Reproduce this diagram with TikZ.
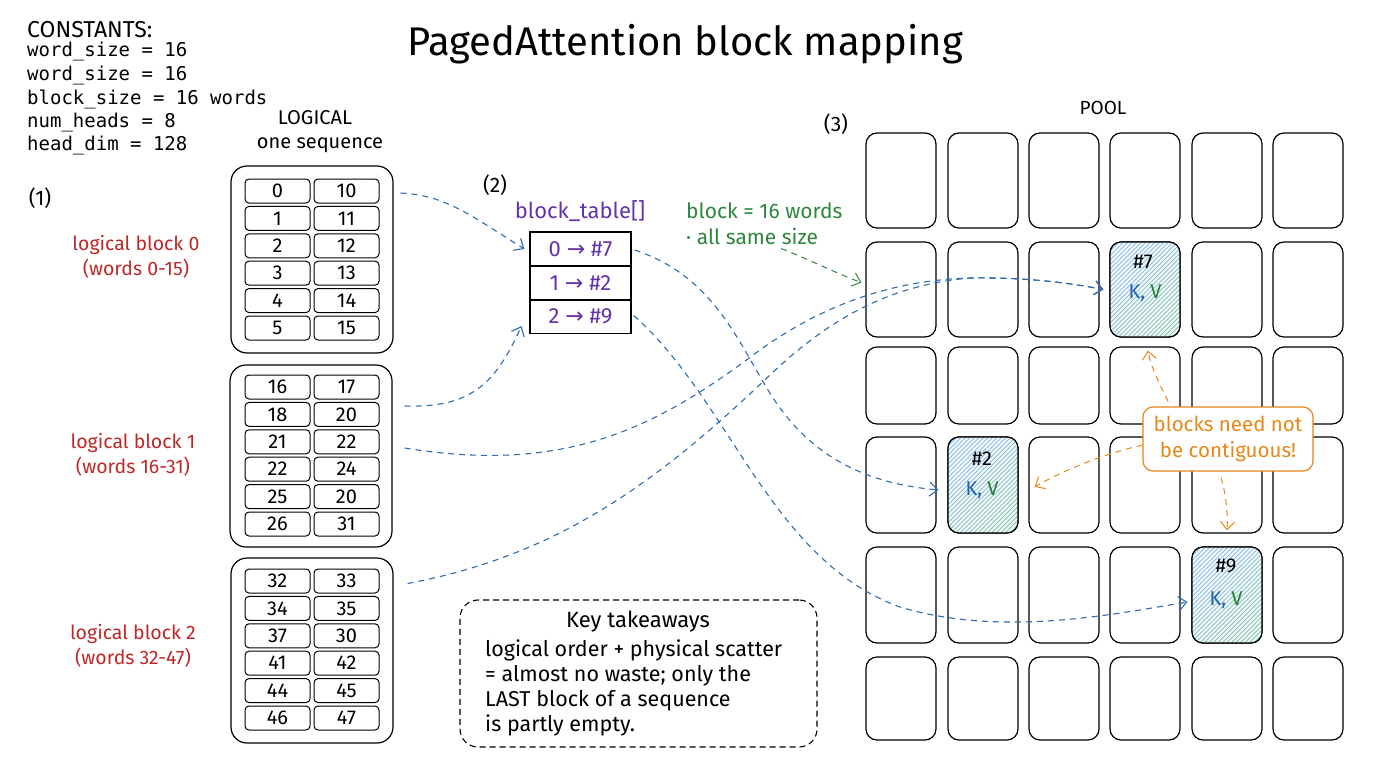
\documentclass[tikz,border=0pt]{standalone}
\usepackage{fontspec}
\setmainfont{Fira Sans}
\setmonofont{DejaVu Sans Mono}
\newfontfamily\arrowfont{DejaVu Sans}
\usetikzlibrary{arrows.meta,calc}

\definecolor{linkblue}{RGB}{47,108,176}
\definecolor{labred}{RGB}{190,40,40}
\definecolor{tabpurple}{RGB}{100,50,170}
\definecolor{notegreen}{RGB}{46,135,60}
\definecolor{calloutorange}{RGB}{230,135,25}
\definecolor{kblue}{RGB}{30,95,175}
\definecolor{vgreen}{RGB}{35,130,50}
\definecolor{hblue}{RGB}{130,185,230}
\definecolor{hgreen}{RGB}{110,195,120}

\begin{document}
\begin{tikzpicture}[x=1pt,y=-1pt,
  hand/.style={font=\fontsize{19.5}{25}\selectfont, align=center, inner sep=0pt},
  monoline/.style={font=\ttfamily\fontsize{19}{23}\selectfont, anchor=west, inner sep=0pt},
  cellbox/.style={draw, line width=1pt, rounded corners=4pt, minimum width=65pt, minimum height=24pt, inner sep=0pt, font=\fontsize{20}{20}\selectfont},
  outerbox/.style={draw, line width=1.2pt, rounded corners=16pt, inner sep=0pt, minimum width=162pt},
  poolcell/.style={draw, line width=1.2pt, rounded corners=11pt, minimum width=70pt, inner sep=0pt},
  tabrow/.style={draw, line width=1.2pt, minimum width=101pt, minimum height=34pt, inner sep=0pt, text=tabpurple, font=\fontsize{22}{22}\selectfont},
  link/.style={draw=linkblue, line width=1.1pt, dash pattern=on 6pt off 5pt, -{Straight Barb[length=8pt,width=14pt]}},
  orangelink/.style={draw=calloutorange, line width=1pt, dash pattern=on 6pt off 5pt, -{Straight Barb[length=8pt,width=14pt]}},
  greenlink/.style={draw=notegreen, line width=1pt, dash pattern=on 6pt off 5pt, -{Straight Barb[length=8pt,width=14pt]}},
  hatched/.style={fill=hblue!10, path picture={
    \foreach \i in {0,...,40}{
      \pgfmathtruncatemacro\mix{max(0,min(100,135-\i*3.4))}
      \draw[line width=0.7pt, color=hblue!\mix!hgreen]
        ($(path picture bounding box.north west)+(\i*4.5,0)$) -- ++(-140,140);
    }}},
  kvtext/.style={font=\fontsize{20}{20}\selectfont, inner sep=0pt}
]
\useasboundingbox[fill=white] (0,0) rectangle (1376,768);

% title
\node (title) [font=\fontsize{40}{44}\selectfont, inner sep=0pt] at (685,44) {PagedAttention block mapping};

% constants
\node[anchor=west, inner sep=0pt, font=\fontsize{23}{26}\selectfont] (k0) at (27,30) {CONSTANTS:};
\node[monoline] (k1) at (27,52) {word\_size = 16};
\node[monoline] (k2) at (27,75.5) {word\_size = 16};
\node[monoline] (k3) at (27,99) {block\_size = 16 words};
\node[monoline] (k4) at (27,122.5) {num\_heads = 8};
\node[monoline] (k5) at (27,146) {head\_dim = 128};

% section labels
\node[hand, font=\fontsize{21}{24}\selectfont] (s1) at (40,198) {(1)};
\node[hand, font=\fontsize{21}{24}\selectfont] (s2) at (495,185) {(2)};
\node[hand, font=\fontsize{21}{24}\selectfont] (s3) at (836,124) {(3)};
\node[hand, font=\fontsize{20}{22}\selectfont] (logh) at (315,118) {LOGICAL};
\node[hand, font=\fontsize{20}{22}\selectfont] (seqh) at (320,145) {one sequence};
\node[hand, font=\fontsize{19}{22}\selectfont] (poolh) at (1103,108) {POOL};

% logical blocks
\node[outerbox, minimum height=187pt] (lb0) at (312,259.5) {};
\node[outerbox, minimum height=182pt] (lb1) at (311,456) {};
\node[outerbox, minimum height=185pt] (lb2) at (312,650.5) {};
\foreach \r/\a/\c in {1/0/10,2/1/11,3/2/12,4/3/13,5/4/14,6/5/15}{
  \node[cellbox] (c0\r1) at (277.5,{191+(\r-1)*27.4}) {\a};
  \node[cellbox] (c0\r2) at (346.5,{191+(\r-1)*27.4}) {\c};
}
\foreach \r/\a/\c in {1/16/17,2/18/20,3/21/22,4/22/24,5/25/20,6/26/31}{
  \node[cellbox] (c1\r1) at (277.5,{387+(\r-1)*27.4}) {\a};
  \node[cellbox] (c1\r2) at (346.5,{387+(\r-1)*27.4}) {\c};
}
\foreach \r/\a/\c in {1/32/33,2/34/35,3/37/30,4/41/42,5/44/45,6/46/47}{
  \node[cellbox] (c2\r1) at (277.5,{581+(\r-1)*27.4}) {\a};
  \node[cellbox] (c2\r2) at (346.5,{581+(\r-1)*27.4}) {\c};
}
\node[hand, text=labred] (lab0) at (136,256.5) {logical block 0\\(words 0-15)};
\node[hand, text=labred] (lab1) at (133,455) {logical block 1\\(words 16-31)};
\node[hand, text=labred] (lab2) at (133,645.5) {logical block 2\\(words 32-47)};

% block table
\node[hand, text=tabpurple, font=\fontsize{22}{24}\selectfont] (bth) at (580,211) {block\_table[]};
\node[tabrow] (t0) at (580.5,249) {0 {\arrowfont →} \#7};
\node[tabrow] (t1) at (580.5,283) {1 {\arrowfont →} \#2};
\node[tabrow] (t2) at (580.5,316.5) {2 {\arrowfont →} \#9};

% green note
\node[hand, anchor=west, text=notegreen, font=\fontsize{21}{24}\selectfont] (gn1) at (686,211) {block = 16 words};
\node[hand, anchor=west, text=notegreen, font=\fontsize{21}{24}\selectfont] (gn2) at (686,236) {· all same size};

% pool
\foreach \r/\t/\b in {1/133/228,2/242/337,3/347/424,4/437/533,5/547/643,6/657/740}{
  \foreach \c/\l in {1/866,2/948,3/1029,4/1110,5/1192,6/1273}{
    \pgfmathsetmacro\hh{\b-\t}
    \node[poolcell, minimum height=\hh pt] (p\r\c) at ({\l+35},{(\t+\b)/2}) {};
  }
}
\node[poolcell, hatched, minimum height=95pt] (h7) at (p24.center) {};
\node[poolcell, hatched, minimum height=96pt] (h2) at (p42.center) {};
\node[poolcell, hatched, minimum height=96pt] (h9) at (p55.center) {};
\node[kvtext] (h7n) at (1143,262) {\#7};
\node[kvtext] (h7kv) at (1145,293) {{\color{kblue}K,} {\color{vgreen}V}};
\node[kvtext] (h2n) at (982,459) {\#2};
\node[kvtext] (h2kv) at (982,490) {{\color{kblue}K,} {\color{vgreen}V}};
\node[kvtext] (h9n) at (1226,566) {\#9};
\node[kvtext] (h9kv) at (1226,600) {{\color{kblue}K,} {\color{vgreen}V}};

% connectors: logical -> table
\draw[link] ($(c012.east)+(21,2)$) .. controls (445,195) and (470,215) .. ($(t0.west)+(-5,0)$);
\draw[link] ($(lb1.east)+(12,-50)$) .. controls (470,408) and (495,385) .. ($(t2.south west)+(-8,-8)$);
% logical -> pool (#7)
\draw[link] ($(lb1.east)+(12,-8)$) .. controls (570,475) and (660,425) .. (760,350)
  .. controls (830,300) and (900,280) .. (970,278)
  .. controls (1030,277) and (1075,284) .. ($(h7.west)+(-6,0)$);
\draw[link] ($(lb2.east)+(14,-67)$) .. controls (560,555) and (660,480) .. (770,375)
  .. controls (830,318) and (890,285) .. (970,278)
  .. controls (1030,277) and (1075,284) .. ($(h7.west)+(-6,0)$);
% table -> pool
\draw[link] ($(t0.east)+(3,1)$) .. controls (710,275) and (735,335) .. (765,385)
  .. controls (800,445) and (850,482) .. ($(h2.west)+(-9,5)$);
\draw[link] ($(t2.east)+(2,-1)$) .. controls (730,400) and (770,560) .. (900,607)
  .. controls (1000,637) and (1110,615) .. ($(h9.west)+(-4,7)$);
% green note arrow
\draw[greenlink] ($(gn2.south)+(29,4)$) .. controls (815,262) and (840,275) .. ($(p21.west)+(-4,-7)$);

% callout
\node[draw=calloutorange, fill=white, line width=1.2pt, rounded corners=10pt, minimum width=170pt, minimum height=64pt, text=calloutorange, font=\fontsize{20.5}{26}\selectfont, align=center, inner sep=0pt] (co) at (1228,439) {blocks need not\\be contiguous!};
\draw[orangelink] ($(co.north)+(-60,-5)$) .. controls (1160,385) and (1150,365) .. ($(h7.south)+(3,13)$);
\draw[orangelink] ($(co.west)+(0,6)$) .. controls (1100,455) and (1060,472) .. ($(h2.east)+(16,2)$);
\draw[orangelink] ($(co.south)+(-7,6)$) .. controls (1226,495) and (1228,512) .. ($(h9.north)+(0,-16)$);

% key takeaways
\node[draw, line width=1.1pt, dash pattern=on 6pt off 4pt, rounded corners=18pt, minimum width=357pt, minimum height=147pt, inner sep=0pt] (kbox) at (638.5,673.5) {};
\node[hand, font=\fontsize{22}{24}\selectfont] (ktitle) at (638,622) {Key takeaways};
\node[hand, align=left, anchor=north west, font=\fontsize{21.5}{25}\selectfont] (ktext) at (485,640) {logical order + physical scatter\\= almost no waste; only the\\LAST block of a sequence\\is partly empty.};
\end{tikzpicture}
\end{document}
